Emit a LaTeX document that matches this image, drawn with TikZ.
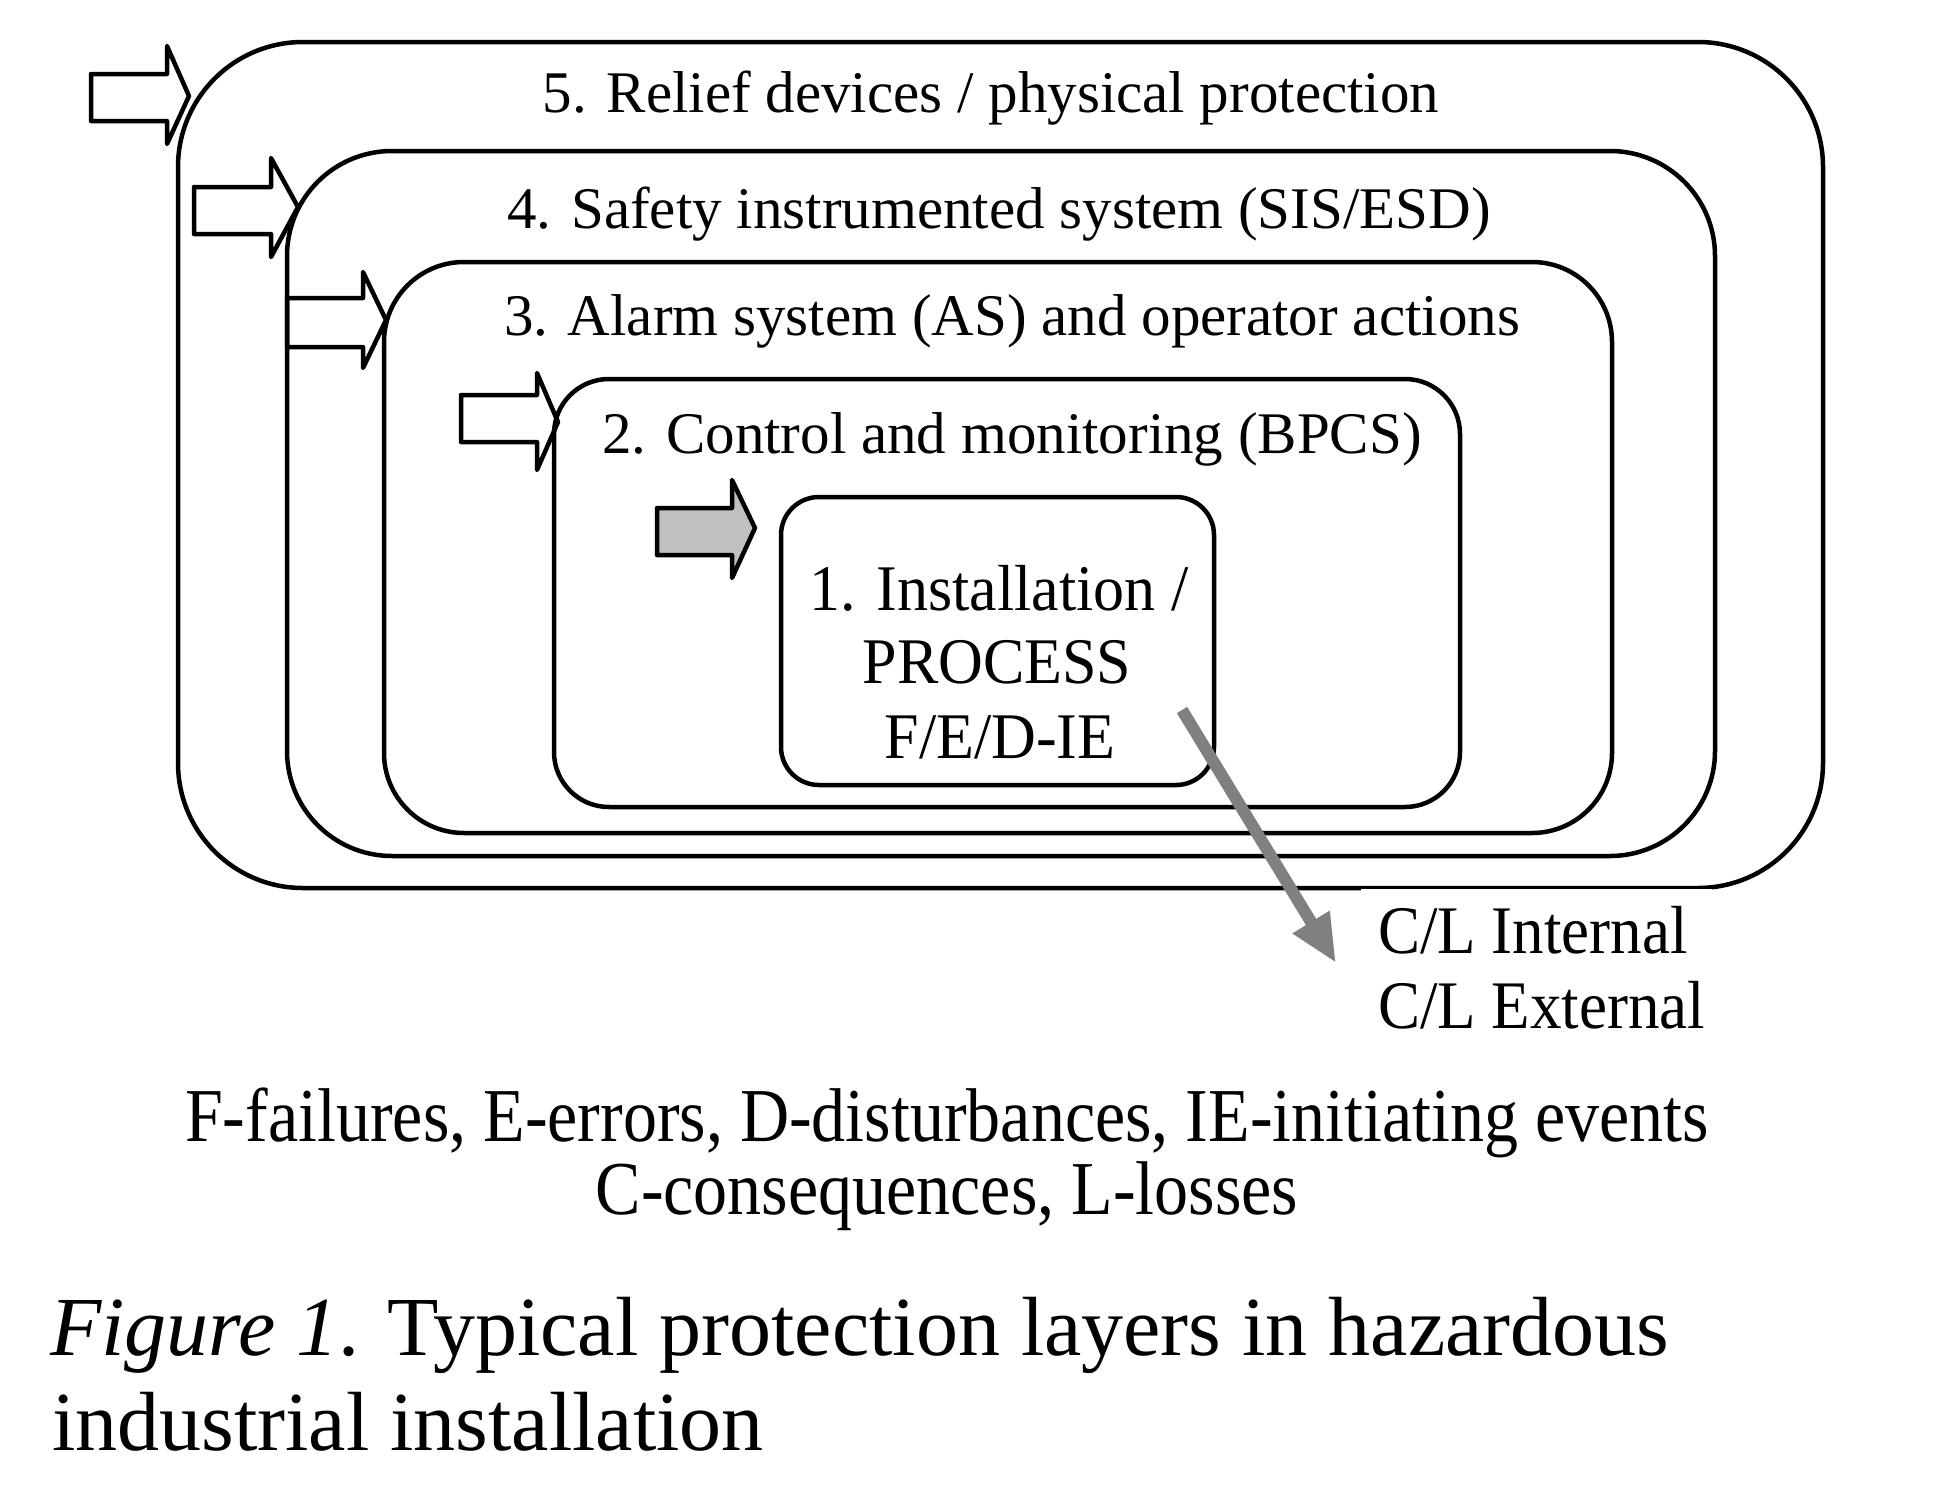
\documentclass[tikz,border=0pt]{standalone}
\usepackage{fontspec}
\setmainfont{Liberation Serif}
\usepackage{graphicx}
\usetikzlibrary{arrows.meta}
\definecolor{arrowgray}{HTML}{C0C0C0}
\definecolor{linegray}{HTML}{808080}
\tikzset{
  layer/.style={draw=black, line width=4.5pt, rectangle, inner sep=0pt, outer sep=0pt},
  blockarrow/.style={draw=black, line width=4.5pt, line join=round},
  lbl/.style={inner sep=0pt, anchor=base, font=\fontsize{59}{70}\selectfont},
  innerlbl/.style={inner sep=0pt, anchor=base, font=\fontsize{62}{74}\selectfont},
  cllbl/.style={inner sep=0pt, anchor=base west, font=\fontsize{63}{75}\selectfont},
  legendlbl/.style={inner sep=0pt, anchor=base, font=\fontsize{68}{80}\selectfont},
  captionlbl/.style={inner sep=0pt, anchor=base west, font=\fontsize{84}{96}\selectfont},
}
\begin{document}
\begin{tikzpicture}[x=1pt,y=-1pt]
\fill[white] (0,0) rectangle (1952,1507);
\useasboundingbox (0,0) rectangle (1952,1507);

% protection layers
\node[layer, rounded corners=125pt, minimum width=1645pt, minimum height=846pt] (b5) at (1000.5,465) {};
\node[layer, rounded corners=105pt, minimum width=1428pt, minimum height=705pt] (b4) at (1001,503.5) {};
\node[layer, rounded corners=80pt, minimum width=1228pt, minimum height=571pt] (b3) at (998,547.5) {};
\node[layer, rounded corners=55pt, minimum width=906pt, minimum height=428pt] (b2) at (1007,593) {};
\node[layer, rounded corners=38pt, minimum width=433pt, minimum height=288pt] (b1) at (997.5,641) {};

% white background of the C/L text box (thins the bottom line)
\fill[white] (1361,888.8) rectangle (1712,935);

% block arrows
\draw[blockarrow] (91,74) -- (167,74) -- (167,46) -- (189,96) -- (167,144) -- (167,121) -- (91,121) -- cycle;
\draw[blockarrow] (194,187) -- (271,187) -- (271,158) -- (298,207) -- (271,257) -- (271,234) -- (194,234) -- cycle;
\draw[blockarrow] (287,298) -- (363,298) -- (363,272) -- (386,320) -- (363,368) -- (363,347) -- (287,347) -- cycle;
\draw[blockarrow] (461,395) -- (537,395) -- (537,373) -- (558,422) -- (537,470) -- (537,442) -- (461,442) -- cycle;
\draw[blockarrow, fill=arrowgray] (657,508) -- (732,508) -- (732,480) -- (755,528) -- (732,578) -- (732,555) -- (657,555) -- cycle;

% layer labels
\node[lbl] (t5) at (991,112) {5. Relief devices / physical protection};
\node[lbl] (t4) at (999,228) {4. Safety instrumented system (SIS/ESD)};
\node[lbl] (t3) at (1012,335) {3. Alarm system (AS) and operator actions};
\node[lbl] (t2) at (1012,453) {2. Control and monitoring (BPCS)};

\node[innerlbl] (t1a) at (999,610) {\scalebox{1}[1.05]{1. Installation /}};
\node[innerlbl] (t1b) at (997,683) {\scalebox{1}[1.05]{PROCESS}};
\node[innerlbl] (t1c) at (1000,758) {\scalebox{1}[1.05]{F/E/D-IE}};

% consequence arrow
\coordinate (gs) at (1182,710);
\coordinate (ge) at (1336,963);
\draw[line width=12pt, linegray, -{Triangle[length=48pt,width=40pt]}] (gs) -- (ge);

\node[cllbl] (cli) at (1378,953) {\scalebox{1}[1.08]{C/L Internal}};
\node[cllbl] (cle) at (1378,1028) {\scalebox{1}[1.08]{C/L External}};

% legend
\node[legendlbl] (lg1) at (947,1141) {\scalebox{1}[1.12]{F-failures, E-errors, D-disturbances, IE-initiating events}};
\node[legendlbl] (lg2) at (947,1214) {\scalebox{1}[1.12]{C-consequences, L-losses}};

% caption
\node[captionlbl] (cap1) at (50,1355) {\textit{Figure 1}. Typical protection layers in hazardous};
\node[captionlbl] (cap2) at (52,1450) {industrial installation};
\end{tikzpicture}
\end{document}
